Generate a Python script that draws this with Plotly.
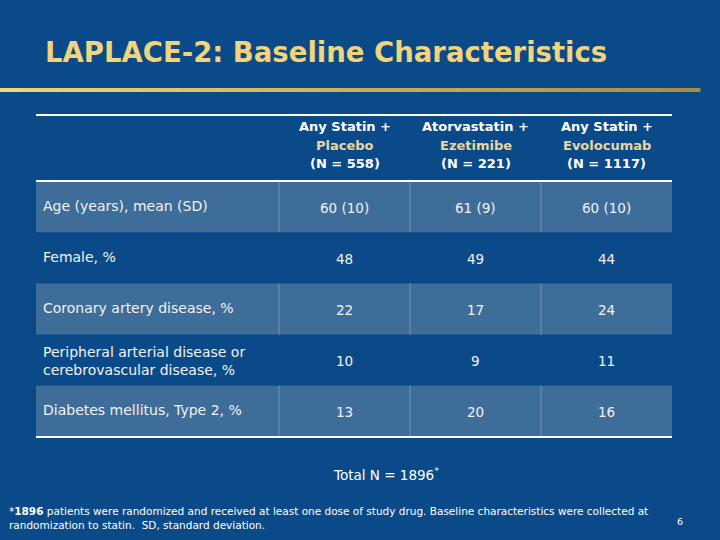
import plotly.graph_objects as go

# table content
row_labels = [
    "Age (years), mean (SD)",
    "Female, %",
    "Coronary artery disease, %",
    "Peripheral arterial disease or<br>cerebrovascular disease, %",
    "Diabetes mellitus, Type 2, %",
]
group_top = ["Any Statin +", "Atorvastatin +", "Any Statin +"]
group_mid = ["Placebo", "Ezetimibe", "Evolocumab"]
group_n = ["(N = 558)", "(N = 221)", "(N = 1117)"]
placebo = ["60 (10)", "48", "22", "10", "13"]
ezetimibe = ["61 (9)", "49", "17", "9", "20"]
evolocumab = ["60 (10)", "44", "24", "11", "16"]

TITLE = "LAPLACE-2: Baseline Characteristics"
TOTAL = "Total N = 1896<sup>*</sup>"
FOOTNOTE = ("*<b>1896</b> patients were randomized and received at least one dose of study drug. "
            "Baseline characteristics were collected at<br>randomization to statin.  SD, standard deviation.")

BG = "#0B4A89"
LIGHT = "#3E6D9A"
GOLD = "#F1D47B"
PALE_GOLD = "#E6D8A2"
FONT = "DejaVu Sans, Arial, sans-serif"

# layout grid (pixels)
col_edges = [36, 279, 410, 541, 672]
head_top, head_bot = 115, 181
row_h = 51.2

fig = go.Figure()
shapes = []
ann = []

# gold rule under title, fading to a darker gold towards the right
n_seg = 35
for k in range(n_seg):
    t = k / (n_seg - 1)
    r = int(0xF1 + (0xA8 - 0xF1) * t)
    g = int(0xD4 + (0x8E - 0xD4) * t)
    b = int(0x7B + (0x45 - 0x7B) * t)
    shapes.append(dict(type="rect", x0=k * 700 / n_seg, x1=(k + 1) * 700 / n_seg + 0.5,
                       y0=88, y1=92, line_width=0, layer="below",
                       fillcolor="rgb(%d,%d,%d)" % (r, g, b)))
ann.append(dict(x=43, y=52, text="<b>" + TITLE + "</b>", xanchor="left", yanchor="middle",
                showarrow=False, font=dict(size=27.5, color=GOLD, family=FONT)))

# header, one annotation per line
head_rows = [(group_top, "white", 126), (group_mid, PALE_GOLD, 145), (group_n, "white", 163)]
for i in range(3):
    cx = (col_edges[i + 1] + col_edges[i + 2]) / 2
    for texts, color, hy in head_rows:
        ann.append(dict(x=cx, y=hy, text="<b>" + texts[i] + "</b>", showarrow=False,
                        xanchor="center", yanchor="middle",
                        font=dict(size=13, color=color, family=FONT)))

# body rows
cols = [placebo, ezetimibe, evolocumab]
for r, label in enumerate(row_labels):
    y0 = head_bot + r * row_h
    y1 = y0 + row_h
    yc = (y0 + y1) / 2
    if r % 2 == 0:
        shapes.append(dict(type="rect", x0=col_edges[0], x1=col_edges[-1], y0=y0, y1=y1,
                           line_width=0, fillcolor=LIGHT, layer="below"))
        for xe in col_edges[1:-1]:
            shapes.append(dict(type="line", x0=xe, x1=xe, y0=y0, y1=y1,
                               line=dict(color="#7393B5", width=1)))
    ly = yc - 1 if "<br>" not in label else yc + 1
    ann.append(dict(x=41, y=ly, text=label, showarrow=False, xanchor="left", yanchor="middle",
                    align="left", font=dict(size=14, color="#F2F2F2", family=FONT)))
    for c in range(3):
        cx = (col_edges[c + 1] + col_edges[c + 2]) / 2
        ann.append(dict(x=cx, y=yc + 1, text=cols[c][r], showarrow=False, xanchor="center",
                        yanchor="middle", font=dict(size=13.5, color="#F2F2F2", family=FONT)))

body_bot = head_bot + len(row_labels) * row_h
for yl in [head_top, head_bot, body_bot]:
    shapes.append(dict(type="line", x0=col_edges[0], x1=col_edges[-1], y0=yl, y1=yl,
                       line=dict(color="white", width=2)))

ann.append(dict(x=386, y=474, text=TOTAL, showarrow=False, xanchor="center", yanchor="middle",
                font=dict(size=13.5, color="white", family=FONT)))
ann.append(dict(x=7, y=518, text=FOOTNOTE, showarrow=False, xanchor="left", yanchor="middle",
                align="left", font=dict(size=10.5, color="white", family=FONT)))
ann.append(dict(x=680, y=521, text="6", showarrow=False, xanchor="center", yanchor="middle",
                font=dict(size=9.5, color="white", family=FONT)))

fig.update_layout(
    width=720, height=540,
    margin=dict(l=0, r=0, t=0, b=0),
    paper_bgcolor=BG, plot_bgcolor=BG,
    xaxis=dict(range=[0, 720], visible=False, fixedrange=True),
    yaxis=dict(range=[540, 0], visible=False, fixedrange=True),
    shapes=shapes, annotations=ann, showlegend=False,
)

fig.write_html("out.html", config={"displayModeBar": False},
               post_script="document.body.style.margin='0';")
